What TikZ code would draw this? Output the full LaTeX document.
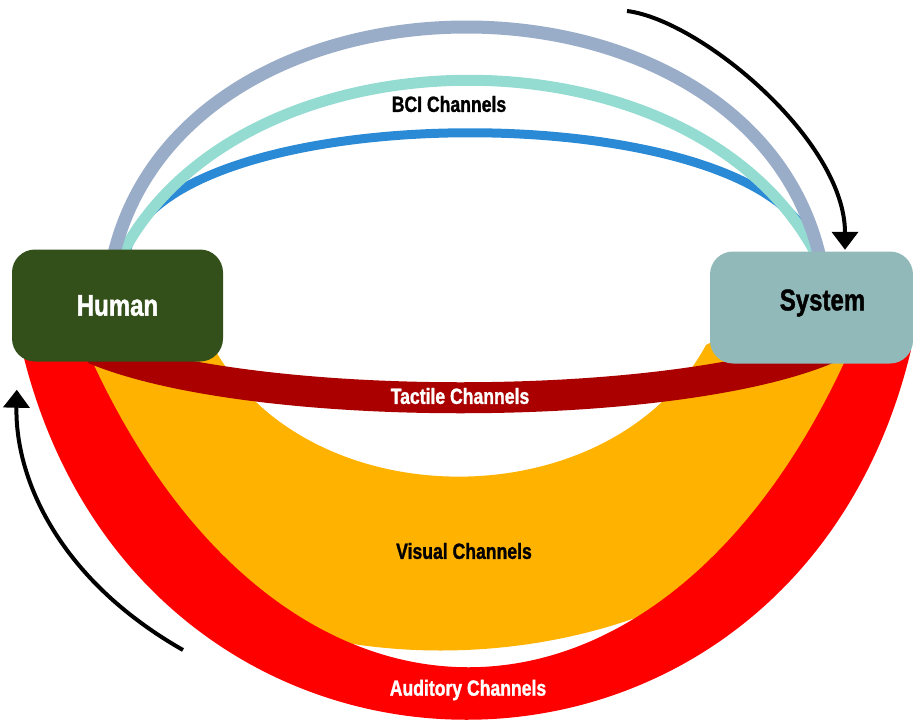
\documentclass[tikz,border=0pt]{standalone}
\usepackage{fontspec}
\setmainfont{Liberation Sans}[FakeStretch=0.8, FakeBold=1.3]
\usetikzlibrary{arrows.meta}
\definecolor{arcgray}{RGB}{154,173,200}
\definecolor{arcteal}{RGB}{148,220,210}
\definecolor{arcblue}{RGB}{43,138,213}
\definecolor{audred}{RGB}{255,0,0}
\definecolor{visorange}{RGB}{255,179,0}
\definecolor{tacred}{RGB}{170,0,0}
\definecolor{humangreen}{RGB}{52,80,26}
\definecolor{sysblue}{RGB}{146,185,186}
\begin{document}
\begin{tikzpicture}[x=1pt,y=-1pt,
  box/.style={rounded corners=23pt, inner sep=0pt, minimum width=#1, minimum height=112pt},
  boxtext/.style={font=\bfseries\fontsize{30}{30}\selectfont, inner sep=0pt},
  lab/.style={font=\bfseries\fontsize{22}{22}\selectfont, inner sep=0pt},
  flowarrow/.style={line width=4pt, -{Triangle[width=26pt,length=18pt]}},
]
\useasboundingbox (0,0) rectangle (913,720);

% BCI arcs
\draw[line width=9pt, arcblue] (125,258) .. controls (150,91) and (790,91) .. (815,258);
\draw[line width=11pt, arcteal] (120,258) .. controls (240,21) and (698,21) .. (818,258);
\draw[line width=13pt, arcgray] (113,258) .. controls (183,-50) and (750,-50) .. (820,258);

% Visual band
\fill[visorange] (40,358) .. controls (65,748) and (800,748) .. (890,358)
  -- (890,335) -- (725,335) -- (706,345)
  .. controls (611,520) and (309,520) .. (214,348)
  -- (200,335) -- (40,335) -- cycle;

% Auditory band
\fill[audred] (22,350) .. controls (140,843) and (793,843) .. (911,350)
  -- (850,350) .. controls (661,773) and (276,773) .. (87,350) -- cycle;

% Tactile band
\fill[tacred] (88,363) .. controls (248,430) and (673,430) .. (833,363)
  -- (833,332) .. controls (673,399) and (248,399) .. (88,332) -- cycle;

% boxes
\node[box=211pt, fill=humangreen] (human) at (117.5,305.5) {};
\node[boxtext, text=white] (humantext) at (human.center) {Human};
\node[box=203pt, fill=sysblue] (system) at (811.5,307.5) {};
\node[boxtext, text=black] (systemtext) at (822.5,303) {System};

% labels
\node[lab, text=black] (bci) at (449,104) {BCI Channels};
\node[lab, text=white] (tactile) at (460,396) {Tactile Channels};
\node[lab, text=black] (visual) at (464,551) {Visual Channels};
\node[lab, text=white] (auditory) at (468,690) {Auditory Channels};

% flow arrows
\coordinate (topstart) at (627,11);
\coordinate (botstart) at (183,650);
\draw[flowarrow] (topstart) .. controls (700,20) and (845,140) .. ([xshift=33.5pt,yshift=1.5pt]system.north);
\draw[flowarrow] (botstart) .. controls (60,580) and (15,480) .. ([xshift=5pt,yshift=-28pt]human.south west);
\end{tikzpicture}
\end{document}
